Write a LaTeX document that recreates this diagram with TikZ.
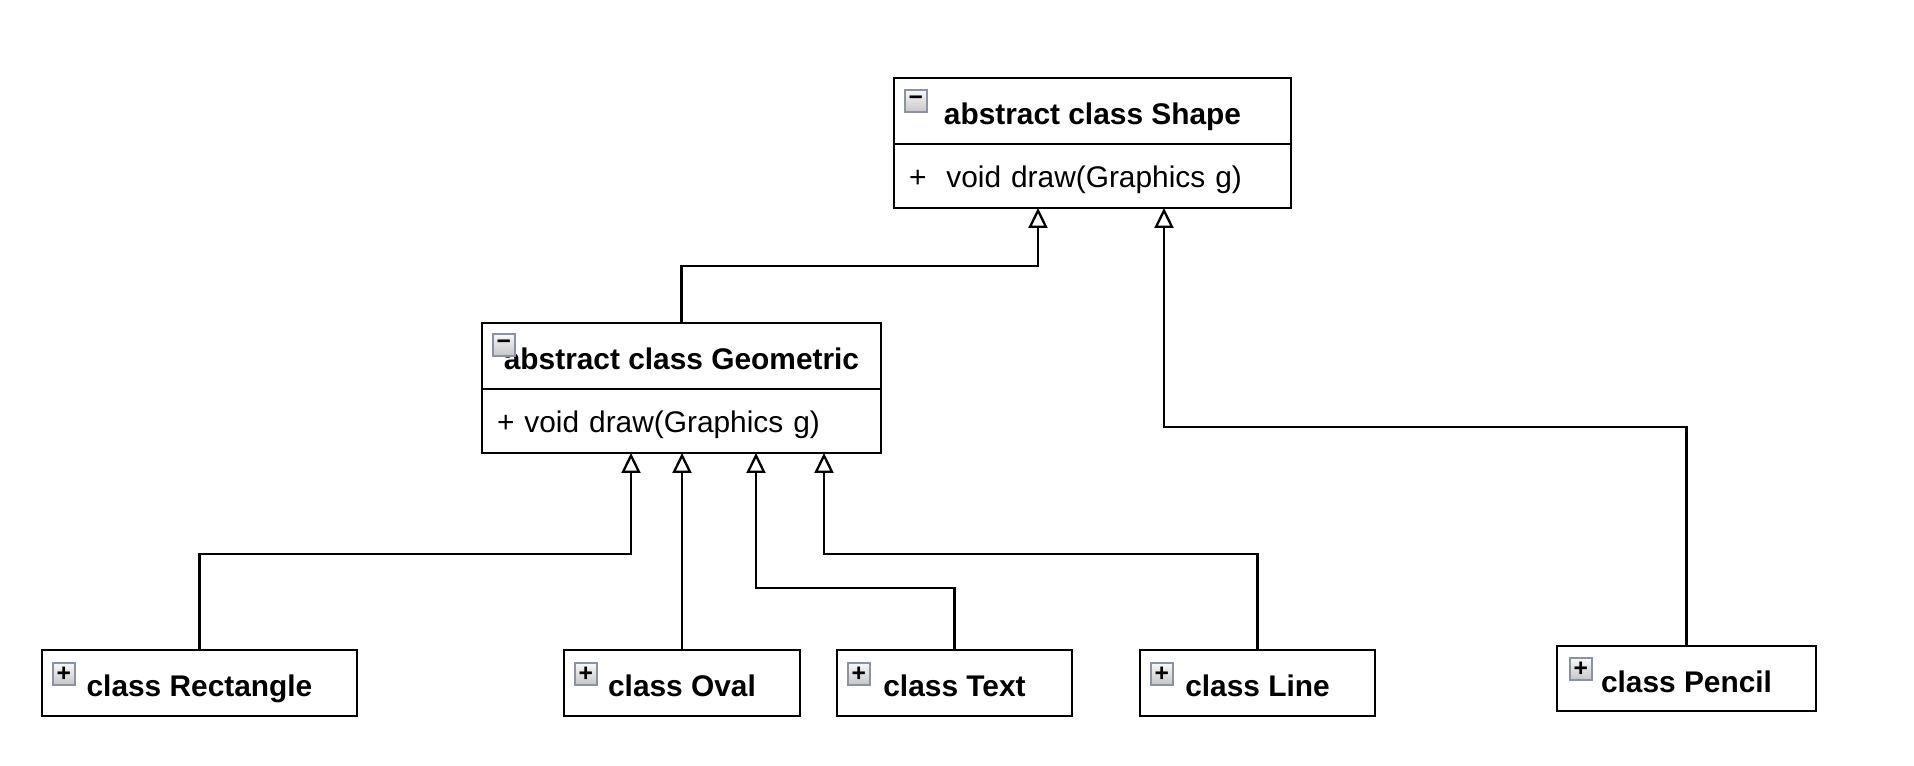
\documentclass[tikz,border=0pt]{standalone}
\usepackage{fontspec}
\setmainfont{Liberation Sans}
\usetikzlibrary{positioning,arrows.meta}
\definecolor{togedge}{HTML}{8A93A6}

\begin{document}
\begin{tikzpicture}[x=0.02cm, y=-0.02cm,
    cls/.style = {draw, line width=1.5pt, inner sep=0pt, outer sep=0pt, minimum height=1.32cm, text height=0.55cm, text depth=0pt, font=\fontsize{17}{20}\selectfont\bfseries},
    ops/.style = {draw, line width=1.5pt, inner xsep=0.3cm, inner ysep=0pt, outer sep=0pt, minimum height=1.28cm, text width=#1, align=left, text height=0.46cm, text depth=0pt, font=\fontsize{17}{20}\selectfont},
    tog/.style = {draw=togedge, line width=1pt, top color=gray!5, bottom color=gray!45, minimum size=0.44cm, inner sep=0pt, anchor=north west, font=\fontsize{14}{14}\selectfont\bfseries},
    inh/.style = {-{Triangle[open, length=0.4cm, width=0.38cm]}, line width=1.3pt}]
        \useasboundingbox (0,0) rectangle (1914,766);

        \node[cls, minimum width=7.94cm] (Shape) at (1092.5,111) {abstract class Shape};
        \node[ops=7.34cm, below=0pt of Shape] (ShapeOps) {+\ \ void draw(Graphics g)};
        \node[cls, minimum width=7.98cm] (Geo) at (681.5,356) {abstract class Geometric};
        \node[ops=7.38cm, below=0pt of Geo] (GeoOps) {+ void draw(Graphics g)};

        \node[cls, minimum width=6.3cm] (Rect) at (199.5,683) {class Rectangle};
        \node[cls, minimum width=4.72cm] (Oval) at (682,683) {class Oval};
        \node[cls, minimum width=4.7cm] (Text) at (954.5,683) {class Text};
        \node[cls, minimum width=4.7cm] (Line) at (1257.5,683) {class Line};
        \node[cls, minimum width=5.18cm, minimum height=1.3cm] (Pencil) at (1686.5,678.5) {class Pencil};

        \node[tog] (ShapeTog) at ([shift={(10,11)}]Shape.north west) {−};
        \node[tog] (GeoTog) at ([shift={(10,10)}]Geo.north west) {−};
        \node[tog] (RectTog) at ([shift={(10,12)}]Rect.north west) {+};
        \node[tog] (OvalTog) at ([shift={(10,12)}]Oval.north west) {+};
        \node[tog] (TextTog) at ([shift={(10,12)}]Text.north west) {+};
        \node[tog] (LineTog) at ([shift={(10,12)}]Line.north west) {+};
        \node[tog] (PencilTog) at ([shift={(12,11)}]Pencil.north west) {+};

        \coordinate (kGeo) at (1038,266);
        \coordinate (kPen) at (1164,427);
        \coordinate (kRect) at (631,554);
        \coordinate (kText) at (756,588);
        \coordinate (kLine) at (824,554);

        \draw[inh] (Geo.north) |- (kGeo) -- (ShapeOps.south -| kGeo);
        \draw[inh] (Pencil.north) |- (kPen) -- (ShapeOps.south -| kPen);
        \draw[inh] (Rect.north) |- (kRect) -- (GeoOps.south -| kRect);
        \draw[inh] (Oval.north) -- (GeoOps.south -| Oval.north);
        \draw[inh] (Text.north) |- (kText) -- (GeoOps.south -| kText);
        \draw[inh] (Line.north) |- (kLine) -- (GeoOps.south -| kLine);
    \end{tikzpicture}
\end{document}
